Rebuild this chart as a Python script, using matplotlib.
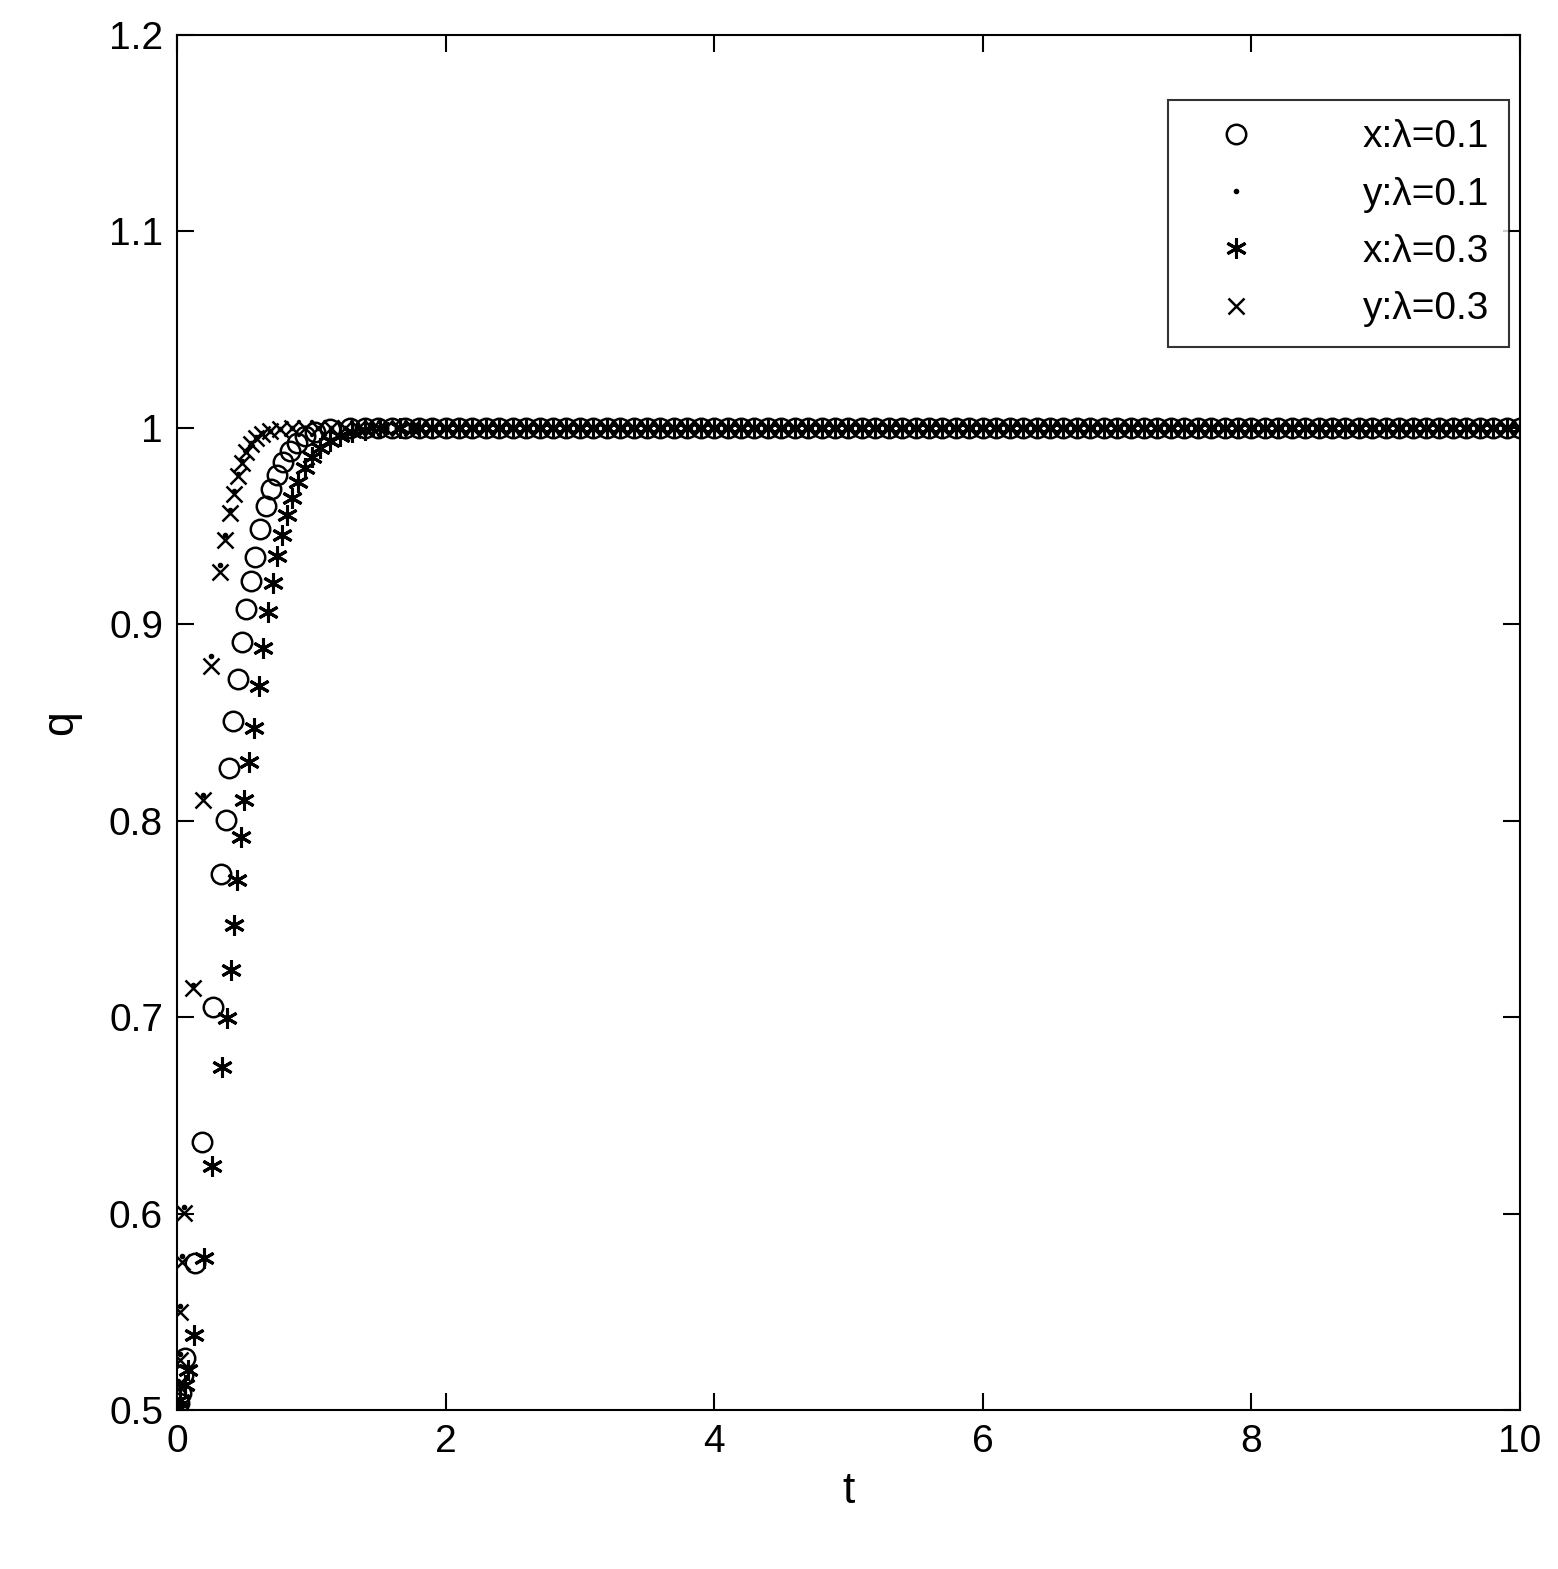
import matplotlib
matplotlib.use("Agg")
import matplotlib.pyplot as plt

plt.rcParams['font.family'] = ['Liberation Sans', 'DejaVu Sans']

t_tail = [1.8, 1.9, 2.0, 2.1, 2.2, 2.3, 2.4, 2.5, 2.6, 2.7, 2.8, 2.9, 3.0, 3.1, 3.2, 3.3, 3.4,
          3.5, 3.6, 3.7, 3.8, 3.9, 4.0, 4.1, 4.2, 4.3, 4.4, 4.5, 4.6, 4.7, 4.8, 4.9, 5.0, 5.1,
          5.2, 5.3, 5.4, 5.5, 5.6, 5.7, 5.8, 5.9, 6.0, 6.1, 6.2, 6.3, 6.4, 6.5, 6.6, 6.7, 6.8,
          6.9, 7.0, 7.1, 7.2, 7.3, 7.4, 7.5, 7.6, 7.7, 7.8, 7.9, 8.0, 8.1, 8.2, 8.3, 8.4, 8.5,
          8.6, 8.7, 8.8, 8.9, 9.0, 9.1, 9.2, 9.3, 9.4, 9.5, 9.6, 9.7, 9.8, 9.9, 10.0]
q_tail = [1.0] * len(t_tail)

# x: lambda=0.1 (circles)
t_x1 = [0, .015, .03, .045, .06, .134, .186, .268, .328, .365, .387, .417, .454, .484, .514,
        .551, .581, .618, .663, .700, .745, .789, .841, .894, .953, 1.028, 1.139, 1.288,
        1.4, 1.5, 1.6, 1.7]
q_x1 = [.5, .5036, .5087, .5178, .5265, .5749, .6365, .7052, .7729, .8004, .8269, .8508,
        .8722, .8910, .9078, .9221, .9343, .9486, .9603, .9689, .9761, .9827, .9883, .9924,
        .9959, .998, .9995, 1.0, 1.0, 1.0, 1.0, 1.0]

# y: lambda=0.1 (dots)
t_y1 = [0, .007, .022, .026, .035, .052, .119, .194, .253, .320, .357, .395, .424, .454,
        .484, .514, .551, .588, .633, .692, .767, .856, .953, 1.05, 1.15, 1.25, 1.35, 1.45,
        1.55, 1.65, 1.75]
q_y1 = [.5, .5150, .5285, .5530, .5785, .6033, .7165, .8130, .8840, .9300, .9455, .9580,
        .9680, .9765, .9830, .9882, .9922, .9952, .9972, .9986, .9995, 1.0, 1.0, 1.0, 1.0,
        1.0, 1.0, 1.0, 1.0, 1.0, 1.0]

# x: lambda=0.3 (asterisks)
t_x3 = [0, .022, .06, .082, .127, .201, .261, .335, .372, .402, .424, .447, .477, .499,
        .536, .573, .611, .640, .678, .715, .745, .782, .819, .856, .901, .953, 1.005,
        1.065, 1.139, 1.214, 1.303, 1.400, 1.512, 1.66]
q_x3 = [.5, .5051, .5127, .5204, .5382, .5774, .6242, .6746, .6996, .724, .7469, .7699,
        .7918, .8106, .8299, .8473, .8686, .888, .9063, .9211, .9348, .9455, .9557, .9644,
        .9725, .9796, .9852, .9898, .9934, .9959, .998, .999, 1.0, 1.0]

# y: lambda=0.3 (crosses)
t_y3 = [0, .007, .022, .026, .035, .052, .119, .194, .253, .320, .357, .395, .424, .454,
        .484, .514, .551, .588, .633, .692, .767, .856, .953, 1.05, 1.15, 1.25, 1.35, 1.45,
        1.55, 1.65, 1.75]
q_y3 = [.5, .5127, .5255, .5499, .5754, .6003, .7149, .8106, .8788, .9267, .943, .9567,
        .9664, .9756, .9822, .9878, .9919, .9949, .997, .9985, .9995, 1.0, 1.0, 1.0, 1.0,
        1.0, 1.0, 1.0, 1.0, 1.0, 1.0]

labels = ['x:λ=0.1', 'y:λ=0.1', 'x:λ=0.3', 'y:λ=0.3']

fig = plt.figure(figsize=(15.58, 15.69), dpi=100)
ax = fig.add_axes([0.1136, 0.1013, 0.9756 - 0.1136, 0.9777 - 0.1013])

ax.plot(t_x1 + t_tail, q_x1 + q_tail, 'o', mfc='none', mec='black', ms=14, mew=1.8,
        ls='none', label=labels[0])
ax.plot(t_y1 + t_tail, q_y1 + q_tail, '.', color='black', ms=6, ls='none', label=labels[1])
ax.plot(t_x3 + t_tail, q_x3 + q_tail, '*', color='black', ms=13, ls='none', label=labels[2])
ax.plot([v + 0.0 for v in t_y3] + t_tail, q_y3 + q_tail, 'x', color='black', ms=11, mew=1.8,
        ls='none', label=labels[3])
# redraw asterisks with thin-line style similar to MATLAB
ax.lines[2].set_marker((6, 2, 0))
ax.lines[2].set_markeredgewidth(2.2)
ax.lines[2].set_markersize(15)

ax.set_xlim(0, 10)
ax.set_ylim(0.5, 1.2)
ax.set_xticks([0, 2, 4, 6, 8, 10])
ax.set_yticks([0.5, 0.6, 0.7, 0.8, 0.9, 1.0, 1.1, 1.2])
ax.set_yticklabels(['0.5', '0.6', '0.7', '0.8', '0.9', '1', '1.1', '1.2'])
ax.tick_params(direction='in', length=12, width=1.5, labelsize=28, top=True, right=True, pad=10)
for s in ax.spines.values():
    s.set_linewidth(1.5)
ax.set_xlabel('t', fontsize=32, labelpad=8)
ax.set_ylabel('q', fontsize=32, labelpad=20)

leg = ax.legend(loc='upper right', bbox_to_anchor=(1.006, 0.967), fontsize=28, frameon=True,
                fancybox=False, edgecolor='black', borderpad=0.5, labelspacing=0.55,
                handlelength=2.5, handletextpad=2.0)
leg.get_frame().set_linewidth(1.5)

fig.savefig('out.png', dpi=100, facecolor='white')
